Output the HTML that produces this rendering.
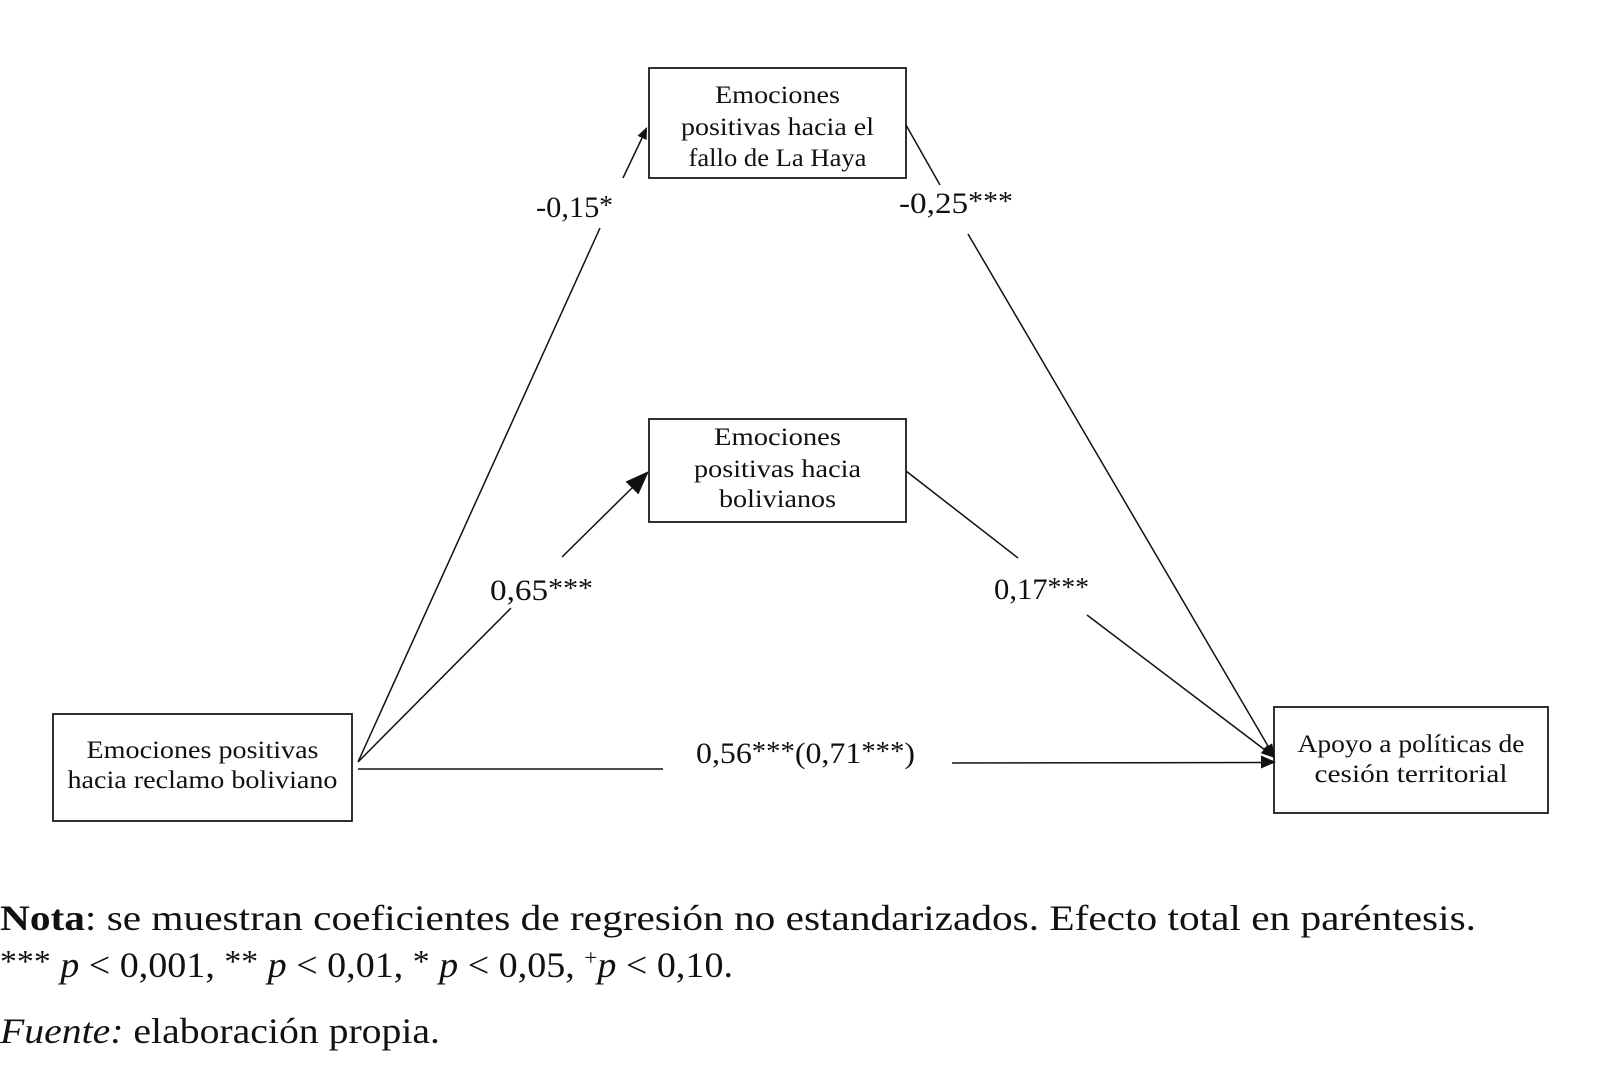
<!DOCTYPE html>
<html>
<head>
<meta charset="utf-8">
<style>
  html, body { margin:0; padding:0; background:#fff; }
  body { width:1624px; height:1080px; overflow:hidden; }
  svg { display:block; }
  text { font-family: "Liberation Serif", "DejaVu Serif", serif; fill:#111; }
</style>
</head>
<body>
<svg width="1624" height="1080" viewBox="0 0 1624 1080" xmlns="http://www.w3.org/2000/svg">
  <rect x="0" y="0" width="1624" height="1080" fill="#fff"/>

  <!-- Boxes -->
  <g fill="#fff" stroke="#1a1a1a" stroke-width="1.8">
    <rect x="649" y="68" width="257" height="110"/>
    <rect x="649" y="419" width="257" height="103"/>
    <rect x="53" y="714" width="299" height="107"/>
    <rect x="1274" y="707" width="274" height="106"/>
  </g>

  <!-- Box texts -->
  <g font-size="25" text-anchor="middle">
    <text x="777.5" y="103" textLength="125" lengthAdjust="spacingAndGlyphs">Emociones</text>
    <text x="777.5" y="135" textLength="193" lengthAdjust="spacingAndGlyphs">positivas hacia el</text>
    <text x="777.5" y="166" textLength="178" lengthAdjust="spacingAndGlyphs">fallo de La Haya</text>

    <text x="777.5" y="445" textLength="127" lengthAdjust="spacingAndGlyphs">Emociones</text>
    <text x="777.5" y="477" textLength="167" lengthAdjust="spacingAndGlyphs">positivas hacia</text>
    <text x="777.5" y="507" textLength="117" lengthAdjust="spacingAndGlyphs">bolivianos</text>

    <text x="202.5" y="758" textLength="232" lengthAdjust="spacingAndGlyphs">Emociones positivas</text>
    <text x="202.5" y="788" textLength="270" lengthAdjust="spacingAndGlyphs">hacia reclamo boliviano</text>

    <text x="1411" y="752" textLength="227" lengthAdjust="spacingAndGlyphs">Apoyo a políticas de</text>
    <text x="1411" y="782" textLength="193" lengthAdjust="spacingAndGlyphs">cesión territorial</text>
  </g>

  <!-- Connectors -->
  <g stroke="#111" stroke-width="1.5" fill="none" stroke-linecap="butt">
    <line x1="358" y1="762" x2="600" y2="228"/>
    <line x1="623" y1="178" x2="642" y2="138"/>
    <line x1="906" y1="125" x2="940" y2="185"/>
    <line x1="968" y1="234" x2="1268" y2="746"/>
    <line x1="358" y1="762" x2="511" y2="608"/>
    <line x1="562" y1="557" x2="633" y2="487"/>
    <line x1="906" y1="471" x2="1018" y2="558"/>
    <line x1="1087" y1="615" x2="1265" y2="750"/>
    <line x1="358" y1="769" x2="663" y2="769"/>
    <line x1="952" y1="763" x2="1262" y2="762.5"/>
  </g>

  <!-- Arrowheads -->
  <g fill="#111" stroke="none">
    <polygon points="647,127 646.6,140 637.5,135.8"/>
    <polygon points="649,471 638.4,494.4 625.6,481.6"/>
    <polygon points="1276,762 1261,755.5 1261,768.5"/>
    <polygon points="1275,758 1272.2,743.4 1263.6,748.4"/>
    <polygon points="1275,758 1267,745.4 1260.9,753.3"/>
  </g>

  <!-- Path labels -->
  <g font-size="30">
    <text x="536" y="217" textLength="77" lengthAdjust="spacingAndGlyphs">-0,15<tspan font-size="27" dy="-3">*</tspan></text>
    <text x="899" y="213" textLength="114" lengthAdjust="spacingAndGlyphs">-0,25<tspan font-size="27" dy="-3">***</tspan></text>
    <text x="490" y="600" textLength="103" lengthAdjust="spacingAndGlyphs">0,65<tspan font-size="27" dy="-3">***</tspan></text>
    <text x="994" y="599" textLength="95" lengthAdjust="spacingAndGlyphs">0,17<tspan font-size="27" dy="-3">***</tspan></text>
    <text x="696" y="763" textLength="219" lengthAdjust="spacingAndGlyphs">0,56<tspan font-size="27" dy="-3">***</tspan><tspan dy="3">(0,71</tspan><tspan font-size="27" dy="-3">***</tspan><tspan dy="3">)</tspan></text>
  </g>

  <!-- Note -->
  <text x="0" y="930" font-size="36" textLength="1476" lengthAdjust="spacingAndGlyphs"><tspan font-weight="bold">Nota</tspan>: se muestran coeficientes de regresión no estandarizados. Efecto total en paréntesis.</text>
  <text x="0" y="977" font-size="36" textLength="733" lengthAdjust="spacingAndGlyphs"><tspan font-size="32" dy="-5">***</tspan><tspan dy="5"> </tspan><tspan font-style="italic">p</tspan> &lt; 0,001, <tspan font-size="32" dy="-5">**</tspan><tspan dy="5"> </tspan><tspan font-style="italic">p</tspan> &lt; 0,01, <tspan font-size="32" dy="-5">*</tspan><tspan dy="5"> </tspan><tspan font-style="italic">p</tspan> &lt; 0,05, <tspan font-size="22" dy="-12">+</tspan><tspan dy="12" font-style="italic">p</tspan> &lt; 0,10.</text>
  <text x="0" y="1043" font-size="36" textLength="440" lengthAdjust="spacingAndGlyphs"><tspan font-style="italic">Fuente:</tspan> elaboración propia.</text>
</svg>
</body>
</html>
